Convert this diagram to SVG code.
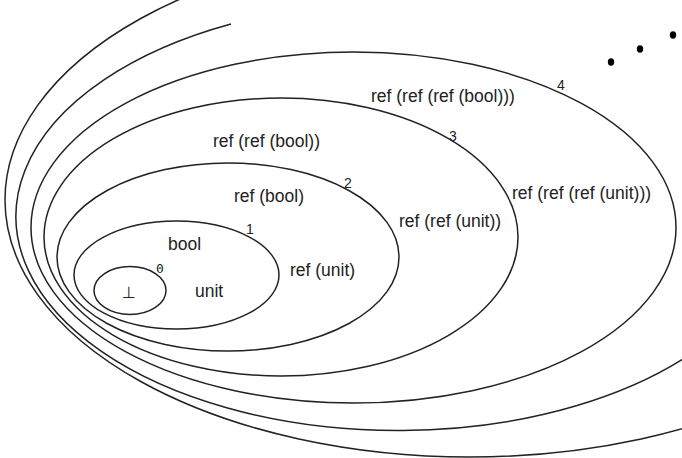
<svg xmlns="http://www.w3.org/2000/svg" width="682" height="458" viewBox="0 0 682 458">
<style>
.ring{fill:none;stroke:#222;stroke-width:1.5}
.lbl{font-family:"Liberation Sans",Arial,sans-serif;font-size:17.5px;fill:#222}
.num{font-family:"Liberation Sans",Arial,sans-serif;font-size:14px;fill:#222}
.mono{font-family:"DejaVu Sans Mono",monospace;font-size:13px;fill:#222}
.sym{font-family:"DejaVu Sans",sans-serif;font-size:16px;fill:#222}
.dot{fill:#000}
</style>
<rect width="682" height="458" fill="#fff"/>
<g id="connectors"></g>
<g id="level6"><ellipse class="ring" cx="470" cy="200" rx="465" ry="257"/></g>
<g id="level5"><path class="ring" d="M 231 24 A 382 214 0 1 0 700 347.5"/></g>
<g id="level4">
<ellipse class="ring" cx="353.5" cy="227.5" rx="322.5" ry="175.5"/>
<text class="num" x="557" y="90">4</text>
<text class="lbl" x="371" y="102">ref (ref (ref (bool)))</text>
<text class="lbl" x="512" y="199">ref (ref (ref (unit)))</text>
</g>
<g id="level3">
<ellipse class="ring" cx="281" cy="237" rx="237" ry="139"/>
<text class="num" x="449" y="141">3</text>
<text class="lbl" x="213" y="147">ref (ref (bool))</text>
<text class="lbl" x="399" y="227">ref (ref (unit))</text>
</g>
<g id="level2">
<ellipse class="ring" cx="228" cy="257" rx="171" ry="94"/>
<text class="num" x="344" y="188">2</text>
<text class="lbl" x="234" y="202">ref (bool)</text>
<text class="lbl" x="290" y="276">ref (unit)</text>
</g>
<g id="level1">
<ellipse class="ring" cx="176.5" cy="275" rx="102.5" ry="54"/>
<text class="num" x="246" y="234">1</text>
<text class="lbl" x="168" y="250">bool</text>
<text class="lbl" x="195" y="297">unit</text>
</g>
<g id="level0">
<ellipse class="ring" cx="130" cy="290.5" rx="36" ry="24"/>
<text class="mono" x="156" y="273">0</text>
<text class="sym" x="122" y="298">⊥</text>
</g>
<g id="ellipsis">
<ellipse class="dot" cx="611" cy="62" rx="3.2" ry="3.7"/>
<ellipse class="dot" cx="640" cy="49" rx="3.2" ry="3.7"/>
<ellipse class="dot" cx="673" cy="35" rx="3.2" ry="3.7"/>
</g>
</svg>
